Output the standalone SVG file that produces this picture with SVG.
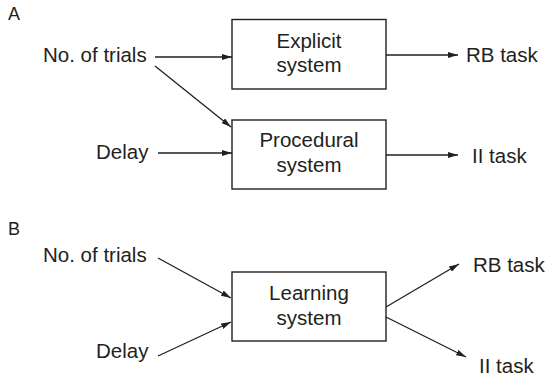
<svg xmlns="http://www.w3.org/2000/svg" width="548" height="379" viewBox="0 0 548 379">
<style>
text{font-family:"Liberation Sans",Arial,sans-serif;font-size:20.5px;fill:#231f20}
.lbl{font-size:18px}
.c{text-anchor:middle}
.box{fill:#fff;stroke:#231f20;stroke-width:1.4}
.ln{stroke:#231f20;stroke-width:1.3;fill:none;marker-end:url(#ah)}
</style>
<defs>
<marker id="ah" viewBox="0 0 10 6" refX="10" refY="3" markerWidth="10" markerHeight="6" markerUnits="userSpaceOnUse" orient="auto">
<path d="M0,0 L10,3 L0,6 Z" fill="#231f20"/>
</marker>
</defs>
<rect width="548" height="379" fill="#fff"/>
<text class="lbl" x="8" y="20">A</text>
<text class="lbl" x="8" y="235">B</text>
<g id="in-trials-a"><text x="43" y="62">No. of trials</text></g>
<g id="in-delay-a"><text x="96" y="159">Delay</text></g>
<g id="explicit"><rect class="box" x="232" y="19.5" width="154" height="69.5"/><text class="c" x="309" y="48">Explicit</text><text class="c" x="309" y="72">system</text></g>
<g id="procedural"><rect class="box" x="232" y="120" width="154" height="69"/><text class="c" x="309" y="147">Procedural</text><text class="c" x="309" y="172">system</text></g>
<g id="out-rb-a"><text x="466" y="62">RB task</text></g>
<g id="out-ii-a"><text x="472" y="163">II task</text></g>
<g id="in-trials-b"><text x="43" y="262">No. of trials</text></g>
<g id="in-delay-b"><text x="96" y="358">Delay</text></g>
<g id="learning"><rect class="box" x="232" y="272" width="154" height="69"/><text class="c" x="309" y="300">Learning</text><text class="c" x="309" y="325">system</text></g>
<g id="out-rb-b"><text x="473" y="272">RB task</text></g>
<g id="out-ii-b"><text x="479" y="373">II task</text></g>
<g id="connectors">
<line class="ln" x1="155" y1="57" x2="232" y2="57"/>
<line class="ln" x1="155" y1="66" x2="231" y2="127"/>
<line class="ln" x1="158" y1="153" x2="232" y2="153"/>
<line class="ln" x1="386" y1="55" x2="458" y2="55"/>
<line class="ln" x1="386" y1="155" x2="458" y2="155"/>
<line class="ln" x1="158" y1="258" x2="231" y2="298"/>
<line class="ln" x1="158" y1="356" x2="231" y2="322"/>
<line class="ln" x1="386" y1="307" x2="459" y2="264"/>
<line class="ln" x1="386" y1="317" x2="466" y2="357"/>
</g>
</svg>
